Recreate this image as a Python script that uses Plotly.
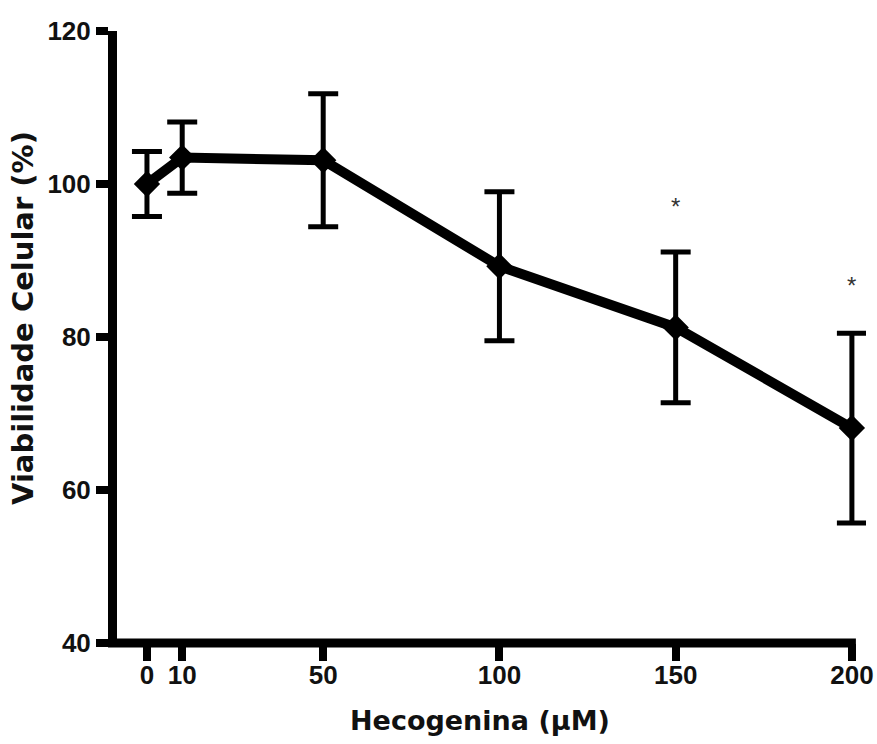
import plotly.graph_objects as go

conc = [0, 10, 50, 100, 150, 200]
viab = [100.0, 103.45, 103.1, 89.25, 81.25, 68.1]
err = [4.25, 4.65, 8.7, 9.75, 9.85, 12.4]
x_ticks = [0, 10, 50, 100, 150, 200]
y_ticks = [40, 60, 80, 100, 120]
star_x = [150, 200]
star_y = [97.0, 86.7]

W, H = 877, 744
ML, MR, MT, MB = 117, 11, 31, 101
X_RANGE = [-8.5, 204]
Y_RANGE = [40, 120]
pw = W - ML - MR
ph = H - MT - MB

fig = go.Figure()
fig.add_trace(go.Scatter(
    x=conc, y=viab, mode="lines+markers",
    line=dict(color="black", width=10),
    marker=dict(symbol="diamond", size=17, color="black", line=dict(color="black", width=3)),
    error_y=dict(type="data", array=err, visible=True, color="black", thickness=5, width=15),
    cliponaxis=False, showlegend=False,
))

for sx, sy in zip(star_x, star_y):
    fig.add_annotation(x=sx, y=sy, text="*", showarrow=False,
                       font=dict(family="Liberation Sans", size=24, color="#333333"))

# x axis line: from the y-axis line to the last tick (200)
lw = 9
x_end = x_ticks[-1]
fig.add_shape(type="line", xref="paper", yref="paper",
              x0=-lw / pw, x1=(x_end - X_RANGE[0]) / (X_RANGE[1] - X_RANGE[0]) + 4 / pw,
              y0=0, y1=0,
              line=dict(color="black", width=lw), layer="above")

tickfont = dict(family="Liberation Sans, Arial", size=26, color="#111111", weight="bold")
xtitlefont = dict(family="DejaVu Sans", size=27, color="#111111", weight="bold")
ytitlefont = dict(family="DejaVu Sans", size=29, color="#111111", weight="bold")

# axis titles as annotations for exact placement
fig.add_annotation(xref="paper", yref="paper", x=(480 - ML) / pw, y=(H - MB - 720) / ph,
                   text="Hecogenina (\u03bcM)", showarrow=False, font=xtitlefont,
                   xanchor="center", yanchor="middle")
fig.add_annotation(xref="paper", yref="paper", x=(23 - ML) / pw, y=(H - MB - 318) / ph,
                   text="Viabilidade Celular (%)", showarrow=False, font=ytitlefont,
                   textangle=-90, xanchor="center", yanchor="middle")

fig.update_layout(
    width=W, height=H,
    margin=dict(l=ML, r=MR, t=MT, b=MB, autoexpand=False),
    paper_bgcolor="white", plot_bgcolor="white",
    xaxis=dict(range=X_RANGE, tickvals=x_ticks, ticktext=[str(v) for v in x_ticks],
               showgrid=False, zeroline=False, showline=False, automargin=False,
               ticks="outside", ticklen=17, tickwidth=8, tickcolor="black",
               ticklabelstandoff=-8,
               tickfont=tickfont),
    yaxis=dict(range=Y_RANGE, tickvals=y_ticks, automargin=False,
               showgrid=False, zeroline=False, showline=True, linecolor="black", linewidth=lw,
               ticks="outside", ticklen=12, tickwidth=8, tickcolor="black",
               tickfont=tickfont),
)

fig.write_html("out.html")
